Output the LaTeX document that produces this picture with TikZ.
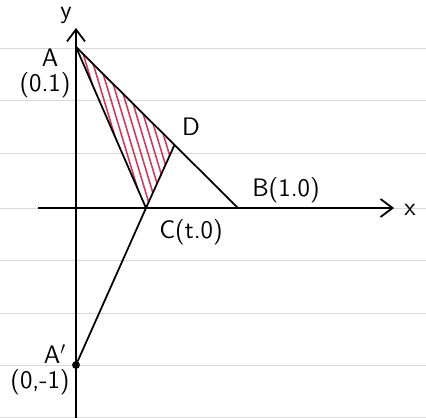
\documentclass[tikz,border=0pt]{standalone}
\usetikzlibrary{arrows.meta,positioning}
\definecolor{hatchred}{RGB}{205,60,95}
\tikzset{
  axis/.style  = {-{Straight Barb[length=2.4mm,width=3.6mm]}, draw=black, line width=1pt},
  seg/.style   = {draw=black, line width=1pt, line cap=round},
  lab/.style   = {font=\sffamily\Large, inner sep=1pt},
  rule/.style  = {draw=black!15, line width=0.5pt},
  hatch/.style = {draw=hatchred, line width=0.9pt, line cap=round},
  pt/.style    = {circle, fill=black, inner sep=0pt, minimum size=4.5pt},
}
\begin{document}
\begin{tikzpicture}[x=0.02cm, y=-0.02cm]
  \useasboundingbox (0,0) rectangle (426,418);
  % ruled paper
  \foreach \r in {48,100,153,208,260,313,365,417}{\draw[rule] (0,\r) -- (426,\r);}

  % points
  \coordinate (A) at (76,47);
  \coordinate (B) at (238,208);
  \coordinate (C) at (146,208);
  \coordinate (D) at (174,146);
  \node[pt] (A1) at (76,365) {};
  \coordinate (xs) at (38,208);
  \coordinate (xe) at (394,208);
  \coordinate (ys) at (76,418);
  \coordinate (ye) at (76,28);

  % hatched region
  \begin{scope}
    \clip (A) -- (C) -- (D) -- cycle;
    \foreach \i in {0,...,19}{\draw[hatch] (58+\i*7,40) -- ++(54,180);}
  \end{scope}

  % axes
  \draw[axis] (xs) -- (xe);
  \draw[axis] (ys) -- (ye);

  % segments
  \draw[seg] (A) -- (B);
  \draw[seg] (A) -- (C);
  \draw[seg] (A1) -- (C) -- (D);

  % labels
  \node[lab] (ylab) at (66,15) {y};
  \node[lab] (xlab) at (410,210) {x};
  \node[lab] (Alab) at (50,58) {A};
  \node[lab, below=1pt of Alab, xshift=-1mm] (Acoord) {(0.1)};
  \node[lab] (Blab) at (286,190) {B(1.0)};
  \node[lab] (Clab) at (191,232) {C(t.0)};
  \node[lab] (Dlab) at (191,127) {D};
  \node[lab] (A1lab) at (55,354) {A$'$};
  \node[lab, below=1pt of A1lab, xshift=-3mm] (A1coord) {(0,-1)};
\end{tikzpicture}
\end{document}
